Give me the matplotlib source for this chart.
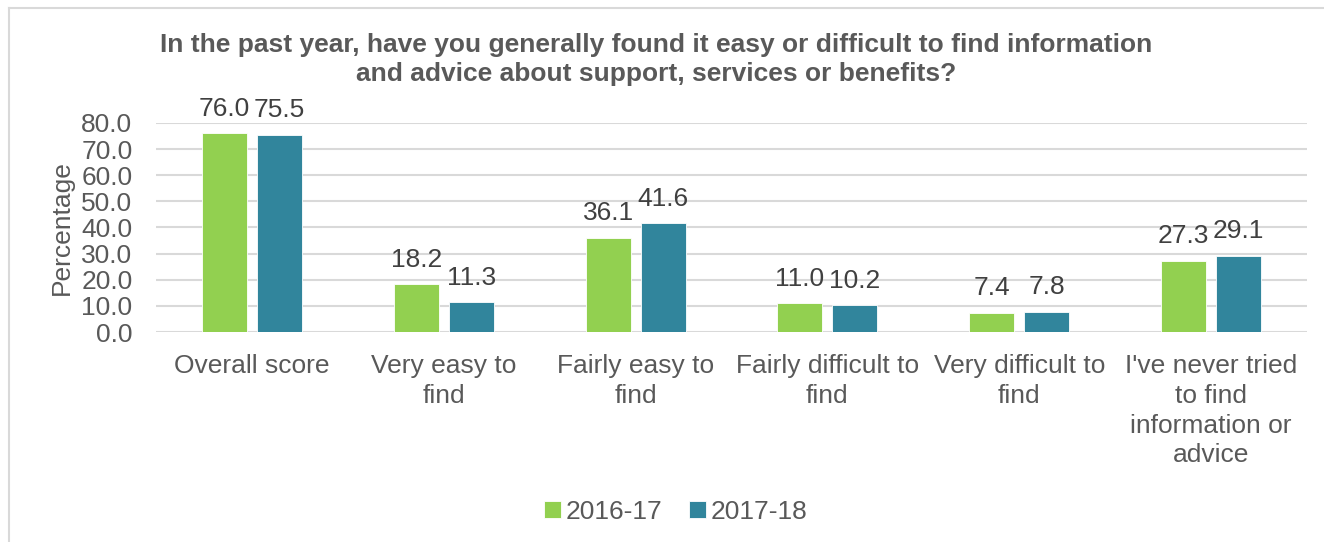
import matplotlib
matplotlib.use('Agg')
import matplotlib.pyplot as plt
import numpy as np
from matplotlib.lines import Line2D

plt.rcParams['font.family'] = ['Liberation Sans', 'DejaVu Sans']

categorias = ['Overall score', 'Very easy to\nfind', 'Fairly easy to\nfind',
              'Fairly difficult to\nfind', 'Very difficult to\nfind',
              "I've never tried\nto find\ninformation or\nadvice"]
anos = ['2016-17', '2017-18']
valores_2016 = [76.0, 18.2, 36.1, 11.0, 7.4, 27.3]
valores_2017 = [75.5, 11.3, 41.6, 10.2, 7.8, 29.1]
marcas_y = [0, 10, 20, 30, 40, 50, 60, 70, 80]

verde = '#92D050'
azul = '#31859C'
cinza = '#595959'
tamanho = 19

fig = plt.figure(figsize=(13.24, 5.42), dpi=100)
ax = fig.add_axes([156 / 1324, 1 - 332 / 542, 1151 / 1324, 209 / 542])

x = np.arange(len(categorias))
largura = 0.235
desloc = 0.1435

b1 = ax.bar(x - desloc, valores_2016, largura, color=verde, label=anos[0],
            edgecolor='white', linewidth=0.6, zorder=3)
b2 = ax.bar(x + desloc, valores_2017, largura, color=azul, label=anos[1],
            edgecolor='white', linewidth=0.6, zorder=3)

for barras in (b1, b2):
    ax.bar_label(barras, fmt='%.1f', padding=9, fontsize=tamanho, color='#404040')

ax.set_xlim(-0.5, len(categorias) - 0.5)
ax.set_ylim(0, 80)
ax.set_yticks(marcas_y)
ax.set_yticklabels(['%.1f' % v for v in marcas_y])
ax.set_xticks(x)
ax.set_xticklabels(categorias, linespacing=1.3)
ax.tick_params(axis='both', length=0, labelsize=tamanho, labelcolor=cinza)
ax.tick_params(axis='x', pad=16)
ax.tick_params(axis='y', pad=17)
ax.yaxis.grid(True, color='#D9D9D9', linewidth=1.5, zorder=0)
for lado in ax.spines.values():
    lado.set_visible(False)
ax.set_ylabel('Percentage', fontsize=tamanho, color=cinza, labelpad=5)

fig.text(656 / 1324, 1 - 33 / 542,
         'In the past year, have you generally found it easy or difficult to find information\n'
         'and advice about support, services or benefits?',
         ha='center', va='top', fontsize=19, fontweight='bold', color=cinza,
         linespacing=1.27)

ax.legend(loc='center', bbox_to_anchor=(676 / 1324, 1 - 512 / 542),
          bbox_transform=fig.transFigure, ncol=2, frameon=False, fontsize=tamanho,
          labelcolor=cinza, handlelength=0.62, handleheight=0.62,
          handletextpad=0.2, columnspacing=1.0)

# moldura do gráfico
fig.add_artist(Line2D([9 / 1324, 9 / 1324], [0, 1 - 8 / 542], color='#D9D9D9',
                      linewidth=1.5, transform=fig.transFigure))
fig.add_artist(Line2D([9 / 1324, 1], [1 - 8 / 542, 1 - 8 / 542], color='#D9D9D9',
                      linewidth=1.5, transform=fig.transFigure))

plt.savefig('out.png', dpi=100)
plt.close()
